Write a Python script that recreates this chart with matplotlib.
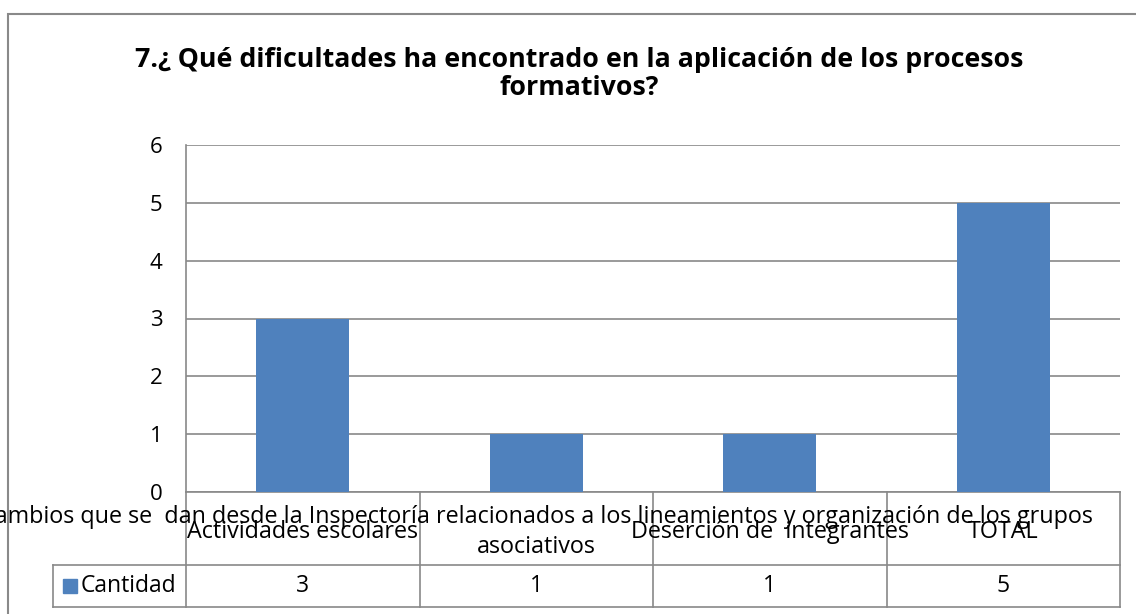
import matplotlib
matplotlib.use("Agg")
import matplotlib.pyplot as plt
from matplotlib.patches import Rectangle

plt.rcParams['font.family'] = ['Open Sans', 'DejaVu Sans']

# datos del grafico
titulo = "7.¿ Qué dificultades ha encontrado en la aplicación de los procesos\nformativos?"
categorias = ["Actividades escolares",
              "Cambios que se  dan desde la Inspectoría relacionados a los lineamientos y organización de los grupos\nasociativos",
              "Deserción de  integrantes",
              "TOTAL"]
serie = "Cantidad"
cantidad = [3, 1, 1, 5]
yticks = [0, 1, 2, 3, 4, 5, 6]

AZUL = '#4F81BD'
GRIS = '#898989'

W, H = 1136, 614
fig = plt.figure(figsize=(W / 100, H / 100), dpi=100)

def fx(px):
    return px / W

def fy(py):
    return 1 - py / H

# marco del area del grafico
fig.add_artist(Rectangle((fx(8), fy(640)), fx(1160) - fx(8), fy(14) - fy(640),
                         transform=fig.transFigure, fill=False, ec=GRIS, lw=1.5))

fig.text(fx(579), fy(74), titulo, ha='center', va='center', fontsize=19.3,
         fontweight='bold', linespacing=1.12)

# area de trazado
ax = fig.add_axes([fx(186), fy(492), fx(1120) - fx(186), fy(145) - fy(492)])
x = list(range(len(categorias)))
ax.bar(x, cantidad, width=0.4, color=AZUL, zorder=3)
ax.set_xlim(-0.5, len(categorias) - 0.5)
ax.set_ylim(0, 6)
ax.set_yticks(yticks)
ax.set_xticks([])
ax.yaxis.grid(True, color=GRIS, lw=1.2)
ax.set_axisbelow(True)
for s in ['top', 'right']:
    ax.spines[s].set_visible(False)
for s in ['left', 'bottom']:
    ax.spines[s].set_color(GRIS)
    ax.spines[s].set_linewidth(1.2)
ax.tick_params(axis='y', length=0, pad=17, labelsize=16)

# tabla de datos bajo el eje
tb = fig.add_axes([fx(186), fy(607), fx(1120) - fx(186), fy(492) - fy(607)])
tb.set_xlim(ax.get_xlim())
tb.set_ylim(0, 1)
tb.axis('off')
colw = (1120 - 186) / len(categorias)
xl = -0.5 - (186 - 53) / colw
fila = (607 - 565) / 115
for b in [i - 0.5 for i in range(len(categorias) + 1)]:
    tb.plot([b, b], [0, 1], color=GRIS, lw=1.2, clip_on=False)
for yy in [0, fila]:
    tb.plot([xl, len(categorias) - 0.5], [yy, yy], color=GRIS, lw=1.2, clip_on=False)
tb.plot([xl, xl], [0, fila], color=GRIS, lw=1.2, clip_on=False)

for i, (c, v) in enumerate(zip(categorias, cantidad)):
    tb.text(i, 0.65, c, ha='center', va='center', fontsize=16.8, linespacing=1.33,
            clip_on=False)
    tb.text(i, fila / 2, str(v), ha='center', va='center', fontsize=16.5)

tb.plot([xl + 17 / colw], [fila / 2], marker='s', ms=10, color=AZUL, clip_on=False)
tb.text(xl + 28 / colw, fila / 2, serie, ha='left', va='center', fontsize=16.5)

fig.savefig('out.png', dpi=100)
